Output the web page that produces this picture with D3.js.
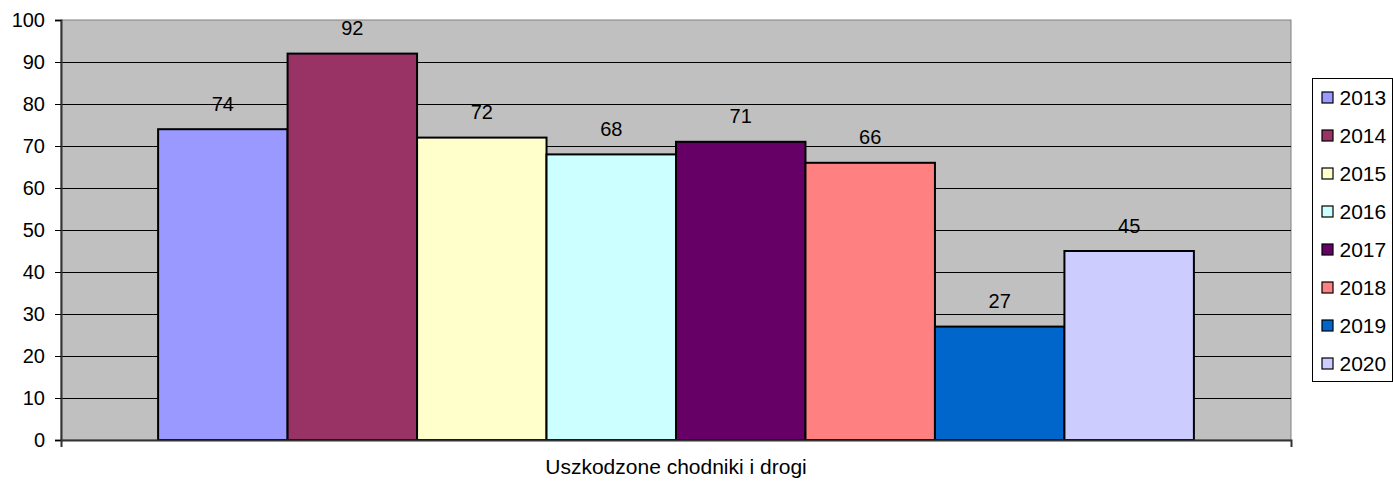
<!DOCTYPE html>
<html>
<head>
<meta charset="utf-8">
<script src="https://cdn.jsdelivr.net/npm/d3@7"></script>
<style>
  body { margin: 0; background: #fff; }
  svg { display: block; font-family: 'Liberation Sans', Arial, sans-serif; }
</style>
</head>
<body>
<svg id="mainsvg" width="1393" height="482"></svg>
<script>
// data
const categories = ['Uszkodzone chodniki i drogi'];
const years = ['2013', '2014', '2015', '2016', '2017', '2018', '2019', '2020'];
const values = [74, 92, 72, 68, 71, 66, 27, 45];
const colors = ['#9999FF', '#993366', '#FFFFCC', '#CCFFFF', '#660066', '#FF8080', '#0066CC', '#CCCCFF'];
const yTicks = [0, 10, 20, 30, 40, 50, 60, 70, 80, 90, 100];

const svg = d3.select('#mainsvg');
const margin = { top: 20, right: 102, bottom: 42, left: 61 };
const width = +svg.attr('width');
const height = +svg.attr('height');
const innerWidth = width - margin.left - margin.right;
const innerHeight = height - margin.top - margin.bottom;

const g = svg.append('g')
    .attr('transform', `translate(${margin.left}, ${margin.top})`);

// one category, 8 bars inside it (Excel gap width ~150%)
const xScale = d3.scaleBand()
    .domain(categories)
    .range([0, innerWidth])
    .paddingInner(1.5 / 9.5)
    .paddingOuter(0.75 / 9.5);

const xInner = d3.scaleBand()
    .domain(years)
    .range([0, xScale.bandwidth()]);

const yScale = d3.scaleLinear()
    .domain([0, 100])
    .range([innerHeight, 0]);

// plot background
g.append('rect')
    .attr('width', innerWidth)
    .attr('height', innerHeight)
    .attr('fill', '#C0C0C0')
    .attr('stroke', '#808080')
    .attr('stroke-width', 1);

// gridlines
g.selectAll('.grid').data(yTicks.filter(d => d > 0 && d < 100))
  .enter().append('line')
    .attr('x1', 0).attr('x2', innerWidth)
    .attr('y1', d => Math.round(yScale(d)) + 0.5)
    .attr('y2', d => Math.round(yScale(d)) + 0.5)
    .attr('stroke', '#000')
    .attr('stroke-width', 1);

// bars
const group = g.append('g')
    .attr('transform', `translate(${xScale(categories[0])}, 0)`);

group.selectAll('rect').data(values)
  .enter().append('rect')
    .attr('x', (d, i) => xInner(years[i]))
    .attr('y', d => yScale(d))
    .attr('width', xInner.bandwidth())
    .attr('height', d => innerHeight - yScale(d))
    .attr('fill', (d, i) => colors[i])
    .attr('stroke', '#000')
    .attr('stroke-width', 2);

// value labels
group.selectAll('.lbl').data(values)
  .enter().append('text')
    .attr('class', 'lbl')
    .attr('x', (d, i) => xInner(years[i]) + xInner.bandwidth() / 2)
    .attr('y', d => yScale(d) - 18.5)
    .attr('text-anchor', 'middle')
    .attr('font-size', '20px')
    .attr('fill', '#000')
    .text(d => d);

// y axis
const yAxis = d3.axisLeft(yScale)
    .tickValues(yTicks)
    .tickSize(6)
    .tickPadding(10);
const yAxisGroup = g.append('g').call(yAxis);
yAxisGroup.select('.domain').attr('stroke', '#333').attr('stroke-width', 2);
yAxisGroup.selectAll('.tick line').attr('stroke', '#000');
yAxisGroup.selectAll('.tick text')
    .attr('font-size', '20px')
    .attr('font-family', "'Liberation Sans', Arial, sans-serif")
    .attr('fill', '#000');

// x axis
const xAxis = d3.axisBottom(xScale).tickValues([]).tickSizeOuter(7);
const xAxisGroup = g.append('g')
    .attr('transform', `translate(0, ${innerHeight})`)
    .call(xAxis);
xAxisGroup.select('.domain').attr('stroke', '#333').attr('stroke-width', 2);

// x axis title
g.append('text')
    .attr('x', innerWidth / 2)
    .attr('y', innerHeight + 34)
    .attr('text-anchor', 'middle')
    .attr('font-size', '21px')
    .attr('fill', '#000')
    .text(categories[0]);

// legend
const legend = svg.append('g').attr('transform', 'translate(1312.5, 78.5)');
legend.append('rect')
    .attr('width', 80)
    .attr('height', 303)
    .attr('fill', '#fff')
    .attr('stroke', '#000')
    .attr('stroke-width', 1);

const item = legend.selectAll('.item').data(years)
  .enter().append('g')
    .attr('class', 'item')
    .attr('transform', (d, i) => `translate(0, ${19 + i * 38})`);
item.append('rect')
    .attr('x', 9.5).attr('y', -5.5)
    .attr('width', 11).attr('height', 11)
    .attr('fill', (d, i) => colors[i])
    .attr('stroke', '#000')
    .attr('stroke-width', 1.2);
item.append('text')
    .attr('x', 27)
    .attr('y', 0)
    .attr('dy', '0.36em')
    .attr('font-size', '21px')
    .attr('fill', '#000')
    .text(d => d);
</script>
</body>
</html>
